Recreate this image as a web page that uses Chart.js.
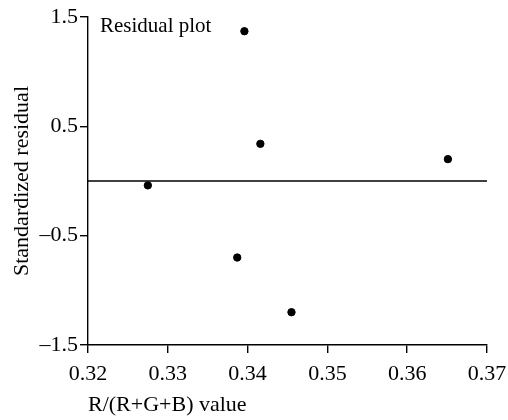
<!DOCTYPE html>
<html>
<head>
<meta charset="utf-8">
<script src="https://cdn.jsdelivr.net/npm/chart.js@4"></script>
<style>
  body { margin: 0; background: #fff; }
  #wrap { width: 508px; height: 420px; }
</style>
</head>
<body>
<div id="wrap"><canvas id="chart" width="508" height="420"></canvas></div>
<script>
// residuals
const ratioValues = [0.3275, 0.3396, 0.3416, 0.3651, 0.3387, 0.3455];
const residualValues = [-0.04, 1.37, 0.34, 0.20, -0.70, -1.20];
// zero reference line
const zeroLineX = [0.32, 0.37];
const zeroLineY = [0, 0];

const xTicks = [0.32, 0.33, 0.34, 0.35, 0.36, 0.37];
const yTicks = [-1.5, -0.5, 0.5, 1.5];

const FONT = '"Liberation Serif", "Times New Roman", serif';

const annotate = {
  id: 'annotate',
  afterDraw(chart) {
    const c = chart.ctx;
    c.save();
    c.font = `21px ${FONT}`;
    c.fillStyle = '#000';
    c.textBaseline = 'middle';
    c.textAlign = 'left';
    c.fillText('Residual plot', 100, 26);
    c.restore();
  }
};

const ctx = document.getElementById('chart').getContext('2d');
new Chart(ctx, {
  type: 'scatter',
  data: {
    datasets: [
      {
        type: 'line',
        data: zeroLineX.map((x, i) => ({ x, y: zeroLineY[i] })),
        borderColor: '#000',
        borderWidth: 1.4,
        pointRadius: 0,
        fill: false
      },
      {
        data: ratioValues.map((x, i) => ({ x, y: residualValues[i] })),
        backgroundColor: '#000',
        borderColor: '#000',
        pointRadius: 3.7,
        pointHoverRadius: 3.7
      }
    ]
  },
  options: {
    responsive: false,
    animation: false,
    layout: { padding: { top: 17, right: 21, left: 0, bottom: 0 } },
    plugins: { legend: { display: false }, tooltip: { enabled: false } },
    scales: {
      x: {
        type: 'linear',
        min: 0.32,
        max: 0.37,
        afterBuildTicks: (s) => { s.ticks = xTicks.map(v => ({ value: v })); },
        afterFit: (s) => { s.height = 75; s.paddingLeft = 0; s.paddingRight = 0; },
        border: { display: true, color: '#000', width: 1.4 },
        grid: { display: true, drawOnChartArea: false, color: '#000', tickLength: 8, lineWidth: 1.4 },
        ticks: {
          color: '#000',
          font: { family: FONT, size: 22 },
          padding: 8,
          maxRotation: 0,
          callback: (v) => Number(v).toFixed(2)
        },
        title: {
          display: true,
          align: 'start',
          text: 'R/(R+G+B) value',
          color: '#000',
          font: { family: FONT, size: 22 },
          padding: { top: 0, bottom: 2 }
        }
      },
      y: {
        type: 'linear',
        min: -1.5,
        max: 1.5,
        afterBuildTicks: (s) => { s.ticks = yTicks.map(v => ({ value: v })); },
        afterFit: (s) => { s.width = 88; s.paddingTop = 0; s.paddingBottom = 0; },
        border: { display: true, color: '#000', width: 1.4 },
        grid: { display: true, drawOnChartArea: false, color: '#000', tickLength: 8, lineWidth: 1.4 },
        ticks: {
          color: '#000',
          font: { family: FONT, size: 22 },
          padding: 2,
          callback: (v) => Number(v).toFixed(1).replace('-', '\u2013')
        },
        title: {
          display: true,
          text: 'Standardized residual',
          color: '#000',
          font: { family: FONT, size: 22 },
          padding: { top: 9, bottom: 0 }
        }
      }
    }
  },
  plugins: [annotate]
});
</script>
</body>
</html>
